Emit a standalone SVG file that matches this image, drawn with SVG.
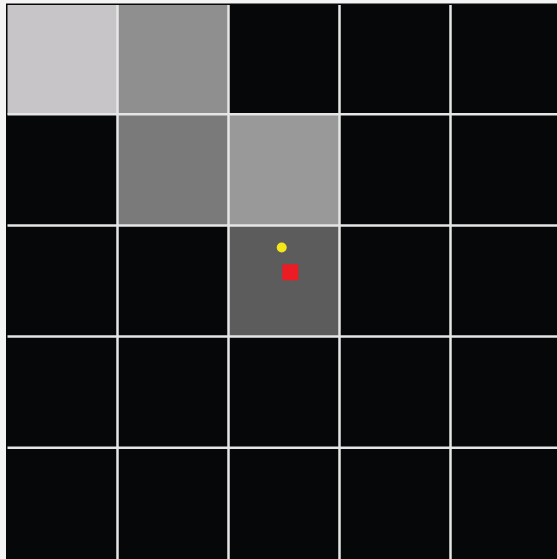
<svg xmlns="http://www.w3.org/2000/svg" width="557" height="559" viewBox="0 0 557 559">
  <style>
    .grid line { stroke: #e6e6e6; stroke-width: 2.5; }
  </style>
  <rect x="0" y="0" width="557" height="559" fill="#f4f4f4"/>
  <rect x="6" y="3.5" width="551" height="555.5" fill="#060709"/>
  <g id="cells">
    <rect id="cell-0-0" x="7.5" y="5" width="110" height="109.3" fill="#c7c5c7"/>
    <rect id="cell-1-0" x="117.5" y="5" width="111" height="109.3" fill="#8f8f8f"/>
    <rect id="cell-1-1" x="117.5" y="114.3" width="111" height="111.2" fill="#7a7a7a"/>
    <rect id="cell-2-1" x="228.5" y="114.3" width="111" height="111.2" fill="#999999"/>
    <rect id="cell-2-2" x="228.5" y="225.5" width="111" height="111" fill="#5c5c5c"/>
  </g>
  <g class="grid" id="grid">
    <line x1="117.5" y1="5" x2="117.5" y2="559"/>
    <line x1="228.5" y1="5" x2="228.5" y2="559"/>
    <line x1="339.5" y1="5" x2="339.5" y2="559"/>
    <line x1="450.5" y1="5" x2="450.5" y2="559"/>
    <line x1="7.5" y1="114.3" x2="557" y2="114.3"/>
    <line x1="7.5" y1="225.5" x2="557" y2="225.5"/>
    <line x1="7.5" y1="336.6" x2="557" y2="336.6"/>
    <line x1="7.5" y1="447.7" x2="557" y2="447.7"/>
  </g>
  <g id="agent">
    <circle cx="281.7" cy="247.5" r="5" fill="#f5e61a"/>
  </g>
  <g id="goal">
    <rect x="282.3" y="264.3" width="16" height="16" fill="#ec1c24"/>
  </g>
</svg>
